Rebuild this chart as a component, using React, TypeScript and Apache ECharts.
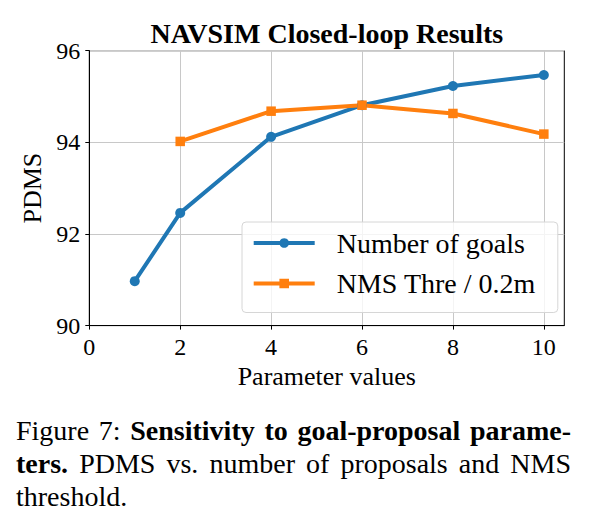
import React, { useEffect, useRef } from "react";
import * as echarts from "echarts";

// Parameter values on the x axis and PDMS scores for each sweep
const goalCounts = [1, 2, 4, 6, 8, 10];
const goalPdms = [90.97, 92.46, 94.12, 94.81, 95.23, 95.47];
const nmsSteps = [2, 4, 6, 8, 10];
const nmsPdms = [94.02, 94.68, 94.81, 94.63, 94.18];
const xTicks = [0, 2, 4, 6, 8, 10];
const seriesNames = ["Number of goals", "NMS Thre / 0.2m"];

const chartTitle = "NAVSIM Closed-loop Results";
const xName = "Parameter values";
const yName = "PDMS";

// Caption lines, each a list of [text, bold] runs
const captionLines: [string, boolean][][] = [
  [["Figure 7:", false], ["Sensitivity to goal-proposal parame-", true]],
  [["ters.", true], ["PDMS vs. number of proposals and NMS", false]],
  [["threshold.", false]],
];

const SERIF = "Liberation Serif";
const CAP_SIZE = 28;

function captionGraphics(left: number, right: number, baselines: number[]) {
  const canvas = document.createElement("canvas");
  const ctx = canvas.getContext("2d")!;
  const measure = (t: string, bold: boolean) => {
    ctx.font = `${bold ? "bold " : ""}${CAP_SIZE}px "${SERIF}"`;
    return ctx.measureText(t).width;
  };
  const out: any[] = [];
  const central = CAP_SIZE * 0.3375;
  captionLines.forEach((runs, li) => {
    const words: { t: string; b: boolean; w: number }[] = [];
    runs.forEach(([text, bold]) =>
      text.split(" ").forEach((t) => words.push({ t, b: bold, w: measure(t, bold) }))
    );
    const last = li === captionLines.length - 1;
    const total = words.reduce((s, w) => s + w.w, 0);
    const gap = last || words.length < 2
      ? measure(" ", false)
      : (right - left - total) / (words.length - 1);
    let x = left;
    words.forEach((w) => {
      out.push({
        type: "text",
        x,
        y: baselines[li] - central,
        style: {
          text: w.t,
          fill: "#000",
          fontFamily: SERIF,
          fontSize: CAP_SIZE,
          fontWeight: w.b ? "bold" : "normal",
          textAlign: "left",
          textVerticalAlign: "middle",
        },
      });
      x += w.w + gap;
    });
  });
  return out;
}

export default function App() {
  const ref = useRef<HTMLDivElement>(null);

  useEffect(() => {
    if (!ref.current) return;
    document.body.style.margin = "0";
    const chart = echarts.init(ref.current, null, { renderer: "svg" });

    const gridLeft = 89.3;
    const gridTop = 50.7;
    const gridRight = 29.7;
    const gridBottom = 204.4;
    const plotCenterX = (gridLeft + (594 - gridRight)) / 2;

    chart.setOption({
      animation: false,
      backgroundColor: "#fff",
      textStyle: { fontFamily: SERIF, color: "#000" },
      grid: {
        left: gridLeft,
        top: gridTop,
        right: gridRight,
        bottom: gridBottom,
        show: true,
        borderColor: "#000",
        borderWidth: 1,
        containLabel: false,
      },
      legend: {
        orient: "vertical",
        left: 242,
        top: 222,
        data: seriesNames,
        itemWidth: 61,
        itemHeight: 12,
        itemGap: 12.5,
        padding: [7, 22, 15, 9.7],
        backgroundColor: "rgba(255,255,255,0.8)",
        borderColor: "#d6d6d6",
        borderWidth: 1,
        borderRadius: 4,
        lineStyle: { width: 4 },
        textStyle: {
          fontSize: 28,
          fontFamily: SERIF,
          color: "#000",
          padding: [0, 0, 0, 17],
        },
      },
      xAxis: {
        type: "value",
        min: 0,
        max: 10.45,
        interval: 2,
        name: xName,
        nameLocation: "middle",
        nameGap: 29,
        nameTextStyle: { fontSize: 26, fontFamily: SERIF, color: "#000" },
        axisLine: { show: true, lineStyle: { color: "#000", width: 1 } },
        axisTick: {
          show: true,
          length: 4,
          customValues: xTicks,
          lineStyle: { color: "#000", width: 1 },
        },
        axisLabel: {
          customValues: xTicks,
          fontSize: 24,
          fontFamily: SERIF,
          color: "#000",
          margin: 9,
        },
        splitLine: { show: true, lineStyle: { color: "#c8c8c8", width: 1 } },
      },
      yAxis: {
        type: "value",
        min: 90,
        max: 96,
        interval: 2,
        name: yName,
        nameLocation: "middle",
        nameRotate: 90,
        nameGap: 43,
        nameTextStyle: { fontSize: 26, fontFamily: SERIF, color: "#000" },
        axisLine: { show: true, lineStyle: { color: "#000", width: 1 } },
        axisTick: { show: true, length: 4, lineStyle: { color: "#000", width: 1 } },
        axisLabel: {
          fontSize: 24,
          fontFamily: SERIF,
          color: "#000",
          margin: 9,
        },
        splitLine: { show: true, lineStyle: { color: "#c8c8c8", width: 1 } },
      },
      series: [
        {
          name: seriesNames[0],
          type: "line",
          data: goalCounts.map((x, i) => [x, goalPdms[i]]),
          symbol: "circle",
          symbolSize: 10,
          color: "#1f77b4",
          lineStyle: { width: 4, color: "#1f77b4" },
          itemStyle: { color: "#1f77b4" },
        },
        {
          name: seriesNames[1],
          type: "line",
          data: nmsSteps.map((x, i) => [x, nmsPdms[i]]),
          symbol: "rect",
          symbolSize: 9.5,
          color: "#ff7f0e",
          lineStyle: { width: 4, color: "#ff7f0e" },
          itemStyle: { color: "#ff7f0e" },
        },
      ],
      graphic: [
        {
          type: "text",
          x: plotCenterX,
          y: 43.3 - 28 * 0.3375,
          style: {
            text: chartTitle,
            fill: "#000",
            fontFamily: SERIF,
            fontSize: 28,
            fontWeight: "bold",
            textAlign: "center",
            textVerticalAlign: "middle",
          },
        },
        ...captionGraphics(16, 571, [440, 473.3, 506]),
      ],
    });

    return () => chart.dispose();
  }, []);

  return <div ref={ref} style={{ width: 594, height: 530 }} />;
}
